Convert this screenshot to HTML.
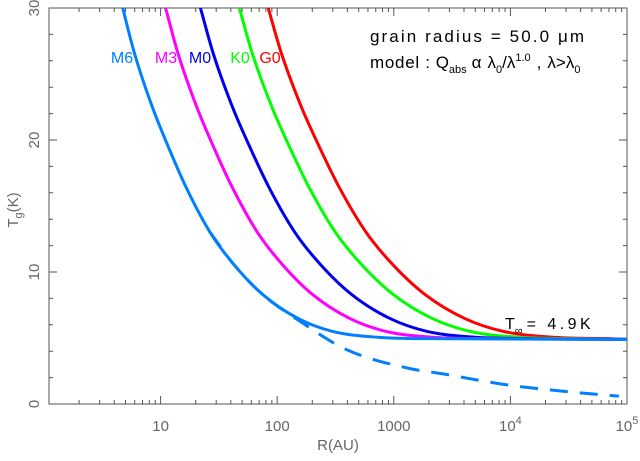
<!DOCTYPE html>
<html><head><meta charset="utf-8"><style>
html,body{margin:0;padding:0;background:#fff}
svg{display:block;font-family:"Liberation Sans","DejaVu Sans",sans-serif}
</style></head><body>
<svg id="chart" width="640" height="461" viewBox="0 0 640 461">
<defs><clipPath id="clip"><rect x="49" y="8" width="578" height="396"/></clipPath></defs>
<g id="grid-axes"></g>
<g id="series" clip-path="url(#clip)"></g>
<g id="labels"></g>
<text x="370" y="42" font-size="17" fill="#000" textLength="214" lengthAdjust="spacing">grain radius = 50.0 μm</text>
<text x="370" y="68" font-size="17" fill="#000"><tspan textLength="60" lengthAdjust="spacing">model :</tspan><tspan dx="5">Q</tspan><tspan font-size="11" dy="5">abs</tspan><tspan dy="-5" dx="5">α</tspan><tspan dx="6">λ</tspan><tspan font-size="11" dy="5">0</tspan><tspan dy="-5">/λ</tspan><tspan font-size="11" dy="-7">1.0</tspan><tspan dy="7" dx="6">,</tspan><tspan dx="6">λ&gt;λ</tspan><tspan font-size="11" dy="5">0</tspan></text>
<text x="505" y="329" font-size="16" fill="#000">T<tspan font-size="11" dy="5">∞</tspan><tspan dy="-5" dx="4" textLength="64" lengthAdjust="spacing">= 4.9K</tspan></text>
<text x="338" y="450" font-size="15" fill="#666" text-anchor="middle">R(AU)</text>
<text transform="translate(18,210) rotate(-90)" font-size="15" fill="#666" text-anchor="middle">T<tspan font-size="11" dy="4">g</tspan><tspan dy="-4">(K)</tspan></text>
</svg>
<script>
const ns="http://www.w3.org/2000/svg";
const xLogMin=0.043, xLogMax=5, yMin=0, yMax=30;
const seriesNames=["M6","M3","M0","K0","G0"];
const seriesColors=["#0080ff","#ff00ff","#0000ee","#00ff00","#ff0000"];
const m6LogR=[0.675,0.775,0.925,1.075,1.225,1.425,1.625,1.875,2.175,2.475,2.875,3.275,5.0];
const m6T=[30,26.6,22.6,19.3,16.3,13.0,10.6,8.3,6.5,5.5,5.05,4.95,4.9];
const m3LogR=[1.043,1.148,1.306,1.463,1.621,1.831,2.041,2.303,2.618,2.933,3.353,3.773,5.0];
const m3T=[30,26.6,22.6,19.3,16.3,13.0,10.6,8.3,6.5,5.5,5.05,4.95,4.9];
const m0LogR=[1.342,1.45,1.612,1.774,1.936,2.152,2.368,2.638,2.962,3.286,3.718,4.15,5.0];
const m0T=[30,26.6,22.6,19.3,16.3,13.0,10.6,8.3,6.5,5.5,5.05,4.95,4.9];
const k0LogR=[1.675,1.785,1.95,2.115,2.28,2.5,2.72,2.995,3.325,3.655,4.095,4.535,5.0];
const k0T=[30,26.6,22.6,19.3,16.3,13.0,10.6,8.3,6.5,5.5,5.05,4.95,4.9];
const g0LogR=[1.923,2.035,2.203,2.371,2.539,2.763,2.987,3.267,3.603,3.939,4.387,4.835,5.0];
const g0T=[30,26.6,22.6,19.3,16.3,13.0,10.6,8.3,6.5,5.5,5.05,4.95,4.9];
const dashLogR=[1.425,1.625,1.875,2.19,2.60,3.13,3.41,3.97,4.53,4.93];
const dashT=[13.0,10.6,8.3,6.3,4.1,2.7,2.3,1.45,0.9,0.6];
const labelX=[122,166,200,240,270];
const xTickLabels=["10","100","1000","10^4","10^5"];
const yTickLabels=["0","10","20","30"];
const L=49,R=627,T=8,B=404;
const xs=v=>L+(v-xLogMin)/(xLogMax-xLogMin)*(R-L);
const ys=v=>B-(v-yMin)/(yMax-yMin)*(B-T);
function el(tag,attrs,parent){const e=document.createElementNS(ns,tag);for(const k in attrs)e.setAttribute(k,attrs[k]);parent.appendChild(e);return e;}
function pathD(lx,ty){
 const n=lx.length,d=[],m=new Array(n);
 for(let i=0;i<n-1;i++)d.push((ty[i+1]-ty[i])/(lx[i+1]-lx[i]));
 m[0]=d[0];m[n-1]=d[n-2];
 for(let i=1;i<n-1;i++){m[i]=(d[i-1]*d[i]<=0)?0:(d[i-1]+d[i])/2;}
 for(let i=0;i<n-1;i++){if(d[i]===0){m[i]=0;m[i+1]=0;continue;}const a=m[i]/d[i],b=m[i+1]/d[i],s=a*a+b*b;if(s>9){const t=3/Math.sqrt(s);m[i]=t*a*d[i];m[i+1]=t*b*d[i];}}
 let s="M"+xs(lx[0])+","+ys(ty[0]);
 for(let i=0;i<n-1;i++){const h=lx[i+1]-lx[i];
  s+=" C"+xs(lx[i]+h/3)+","+ys(ty[i]+m[i]*h/3)+" "+xs(lx[i+1]-h/3)+","+ys(ty[i+1]-m[i+1]*h/3)+" "+xs(lx[i+1])+","+ys(ty[i+1]);}
 return s;}
const ax=document.getElementById("grid-axes");
const frame=el("rect",{x:L,y:T,width:R-L,height:B-T,fill:"none",stroke:"#555","stroke-width":1},ax);


let td="";
for(let dec=0;dec<5;dec++){for(let m=1;m<10;m++){const lv=dec+Math.log10(m);if(lv<xLogMin||lv>xLogMax)continue;const x=xs(lv);const len=m===1?8:4;td+=`M${x},${B}v${-len}M${x},${T}v${len}`;}}
td+=`M${xs(5)},${B}v-8`;
for(let v=0;v<=30;v+=2){const y=ys(v);const len=v%10===0?8:4;td+=`M${L},${y}h${len}M${R},${y}h${-len}`;}
const tk=el("path",{d:td,stroke:"#555","stroke-width":1,fill:"none"},ax);


const lb=document.getElementById("labels");
xTickLabels.forEach((s,i)=>{const x=xs(i+1);const t=el("text",{x:x,y:B+27,"font-size":15,fill:"#666","text-anchor":"middle"},lb);
if(s.includes("^")){const [b,e]=s.split("^");t.textContent=b;const sp=el("tspan",{"font-size":11,dy:-7},t);sp.textContent=e;}else t.textContent=s;

});
yTickLabels.forEach((s,i)=>{const y=ys(i*10);const t=el("text",{transform:`translate(${L-10},${y}) rotate(-90)`,"font-size":15,fill:"#666","text-anchor":"middle"},lb);t.textContent=s;

});
const sg=document.getElementById("series");
const dash=el("path",{d:pathD(dashLogR,dashT),stroke:"#0080ff","stroke-width":3,fill:"none","stroke-dasharray":"18,12"},sg);


const allX=[m6LogR,m3LogR,m0LogR,k0LogR,g0LogR],allT=[m6T,m3T,m0T,k0T,g0T];
for(let i=4;i>=0;i--){const p=el("path",{d:pathD(allX[i],allT[i]),stroke:seriesColors[i],"stroke-width":3,fill:"none"},sg);

}
seriesNames.forEach((n,i)=>{const t=el("text",{x:labelX[i],y:63,"font-size":16,fill:seriesColors[i],"text-anchor":"middle"},lb);t.textContent=n;

});
</script>
</body></html>
